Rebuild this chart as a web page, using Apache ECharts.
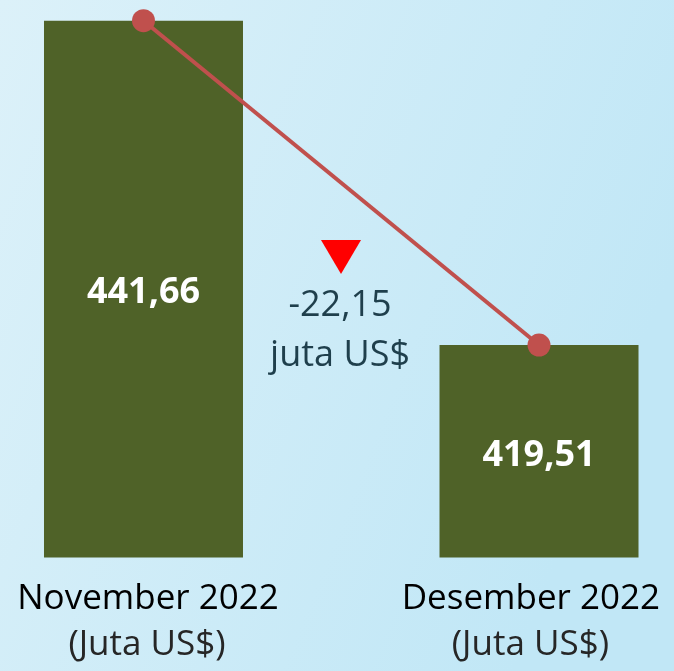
<!DOCTYPE html>
<html>
<head>
<meta charset="utf-8">
<script src="https://cdn.jsdelivr.net/npm/echarts@6/dist/echarts.min.js"></script>
<style>
  html, body { margin: 0; padding: 0; }
  #chart { width: 674px; height: 671px; }
</style>
</head>
<body>
<div id="chart"></div>
<script>
const categories = ['November 2022', 'Desember 2022'];
const unitLabel = '(Juta US$)';
const values = [441.66, 419.51];
const deltaUnit = 'juta US$';

const fmt = v => v.toFixed(2).replace('.', ',');
const delta = values[1] - values[0];
const points = values.map((v, i) => [i, v]);

const chart = echarts.init(document.getElementById('chart'), null, { renderer: 'canvas' });
const FONT = '"Open Sans", "Noto Sans", sans-serif';

chart.setOption({
  backgroundColor: {
    type: 'linear', x: 0, y: 0, x2: 1, y2: 0.4,
    colorStops: [
      { offset: 0, color: '#dcf1f9' },
      { offset: 1, color: '#c1e7f6' }
    ]
  },
  animation: false,
  grid: [
    { left: 0, right: 0, top: 20.7, bottom: 113.5 },
    { left: 143.5, right: 135, top: 20.7, bottom: 113.5 }
  ],
  xAxis: [
    {
      type: 'value',
      gridIndex: 0,
      min: -0.3628,
      max: 1.3413,
      axisLine: { show: false },
      axisTick: { show: false },
      axisLabel: { show: false },
      splitLine: { show: false }
    },
    {
      type: 'category',
      gridIndex: 1,
      data: categories,
      boundaryGap: false,
      axisLine: { show: false },
      axisTick: { show: false },
      splitLine: { show: false },
      axisLabel: {
        margin: 19,
        interval: 0,
        formatter: (v, i) => i === 0
          ? '{a0|' + v + '}\n{b0|' + unitLabel + '}'
          : '{a1|' + v + '}\n{b1|' + unitLabel + '}',
        rich: {
          a0: { fontFamily: FONT, fontSize: 35, color: '#000', lineHeight: 46, padding: [0, 0, 0, 9] },
          b0: { fontFamily: FONT, fontSize: 35, color: '#262626', lineHeight: 46, padding: [0, 0, 0, 7] },
          a1: { fontFamily: FONT, fontSize: 35, color: '#000', lineHeight: 46, padding: [0, 11, 0, 0] },
          b1: { fontFamily: FONT, fontSize: 35, color: '#262626', lineHeight: 46, padding: [0, 12, 0, 0] }
        }
      }
    }
  ],
  yAxis: [
    {
      type: 'value',
      gridIndex: 0,
      min: 405,
      max: 441.66,
      show: false,
      splitLine: { show: false }
    },
    {
      type: 'value',
      gridIndex: 1,
      min: 405,
      max: 441.66,
      show: false,
      splitLine: { show: false }
    }
  ],
  series: [
    {
      type: 'bar',
      xAxisIndex: 0,
      yAxisIndex: 0,
      data: points,
      barWidth: 199,
      itemStyle: { color: '#4f6228' },
      label: {
        show: true,
        position: 'inside',
        offset: [0, 4],
        formatter: p => fmt(p.value[1]),
        fontFamily: FONT,
        fontWeight: 'bold',
        fontSize: 36,
        color: '#ffffff'
      },
      z: 2
    },
    {
      type: 'line',
      xAxisIndex: 0,
      yAxisIndex: 0,
      data: points,
      symbol: 'circle',
      symbolSize: 23,
      clip: false,
      lineStyle: { color: '#c0504d', width: 4 },
      itemStyle: { color: '#c0504d' },
      z: 3
    }
  ],
  graphic: [
    {
      type: 'polygon',
      shape: { points: [[321, 240], [361, 240], [341, 274]] },
      style: { fill: '#ff0000' },
      z: 10
    },
    {
      type: 'text',
      x: 340, y: 306,
      style: {
        text: fmt(delta),
        fontFamily: FONT, fontSize: 36, fontWeight: 400,
        fill: '#1f3f4c', align: 'center', verticalAlign: 'middle'
      },
      z: 10
    },
    {
      type: 'text',
      x: 340, y: 356,
      style: {
        text: deltaUnit,
        fontFamily: FONT, fontSize: 36, fontWeight: 400,
        fill: '#1f3f4c', align: 'center', verticalAlign: 'middle'
      },
      z: 10
    }
  ]
});
</script>
</body>
</html>
